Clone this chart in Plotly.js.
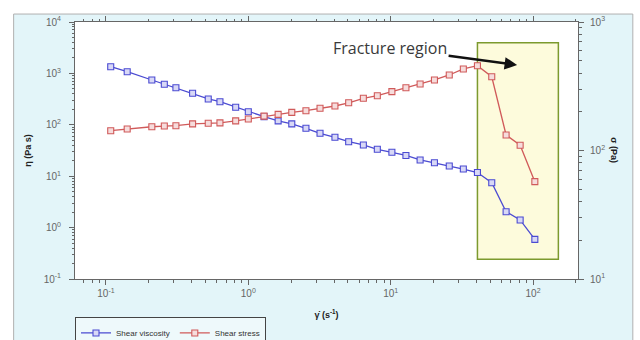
<!DOCTYPE html>
<html>
<head>
<meta charset="utf-8">
<script src="https://cdn.plot.ly/plotly-3.0.1.min.js"></script>
<style>html,body{margin:0;padding:0;background:#fff;}#chart{width:640px;height:340px;}</style>
</head>
<body>
<div id="chart"></div>
<script>
// Shear rate (1/s)
const shearRate = [0.108, 0.141, 0.21, 0.257, 0.31, 0.406, 0.523, 0.632, 0.815, 1.0,
  1.29, 1.62, 2.02, 2.54, 3.19, 4.06, 5.07, 6.43, 8.06, 10.2,
  12.8, 16.1, 20.3, 25.8, 32.4, 40.7, 51.3, 64.7, 81.2, 103];
// Shear viscosity (Pa s)
const shearViscosity = [1349, 1079, 744, 614, 527, 410, 318, 281, 219, 180,
  144, 119, 104, 85.5, 68.3, 57.1, 46.9, 40.5, 33.4, 29.2,
  25.3, 20.7, 18.3, 15.8, 13.8, 11.8, 7.48, 2.04, 1.41, 0.59];
// Shear stress (Pa)
const shearStress = [142.6, 147, 153, 155, 156, 161, 163, 164, 170, 176,
  185, 191, 198, 204, 213, 222, 235, 255, 267, 287,
  308, 329, 354, 387, 431, 457, 375, 132, 110, 57.2];
// Fracture region bounds
const fractureX = [40.7, 150.7];
const fractureY = [0.2415, 3953];

const xTickVals = [0.1, 1, 10, 100];
const xTickText = ['10<sup>-1</sup>', '10<sup>0</sup>', '10<sup>1</sup>', '10<sup>2</sup>'];
const yTickVals = [0.1, 1, 10, 100, 1000, 10000];
const yTickText = ['10<sup>-1</sup>', '10<sup>0</sup>', '10<sup>1</sup>', '10<sup>2</sup>', '10<sup>3</sup>', '10<sup>4</sup>'];
const y2TickVals = [10, 100, 1000];
const y2TickText = ['10<sup>1</sup>', '10<sup>2</sup>', '10<sup>3</sup>'];

function minorVals(d0, d1) {
  const out = [];
  for (let d = d0; d <= d1; d++) for (let m = 2; m <= 9; m++) out.push(m * Math.pow(10, d));
  return out;
}

const tickFont = {family: 'Liberation Sans, Arial, sans-serif', size: 10, color: '#666'};
const titleFont = {family: 'Liberation Sans, Arial, sans-serif', size: 9, color: '#222', weight: 'bold'};

const traces = [
  {
    x: shearRate, y: shearViscosity, name: 'Shear viscosity', type: 'scatter', mode: 'lines+markers',
    line: {color: '#4b4bd2', width: 1.3},
    marker: {symbol: 'square', size: 6, color: '#d8d8f6', line: {color: '#4b4bd2', width: 1.1}},
    xaxis: 'x', yaxis: 'y'
  },
  {
    x: shearRate, y: shearStress, name: 'Shear stress', type: 'scatter', mode: 'lines+markers',
    line: {color: '#d05a5a', width: 1.3},
    marker: {symbol: 'square', size: 6, color: '#f6dcdc', line: {color: '#d05a5a', width: 1.1}},
    xaxis: 'x', yaxis: 'y2'
  }
];

const axisCommon = {
  type: 'log', showgrid: false, zeroline: false, showline: true, linecolor: '#666', linewidth: 1,
  ticks: 'outside', ticklen: 5, tickcolor: '#666', tickwidth: 1, tickmode: 'array',
  tickfont: tickFont
};

const layout = {
  width: 640, height: 340,
  margin: {l: 75, r: 62, t: 22, b: 61, autoexpand: false},
  paper_bgcolor: '#ffffff', plot_bgcolor: '#ffffff',
  showlegend: true,
  legend: {
    orientation: 'h', x: 0, xanchor: 'left', y: -0.21, yanchor: 'middle',
    bgcolor: 'rgba(255,255,255,0.4)', bordercolor: '#444', borderwidth: 1,
    font: {family: 'Liberation Sans, Arial, sans-serif', size: 8, color: '#333'},
    itemwidth: 30
  },
  xaxis: Object.assign({}, axisCommon, {
    range: [-1.2175, 2.316], tickvals: xTickVals, ticktext: xTickText, mirror: 'ticks',
    minor: {tickmode: 'array', tickvals: minorVals(-2, 2), ticks: 'outside', ticklen: 2.5, tickcolor: '#666'},
    title: {text: 'γ̇ (s<sup>-1</sup>)', font: titleFont, standoff: 13}
  }),
  yaxis: Object.assign({}, axisCommon, {
    range: [-1, 4], tickvals: yTickVals, ticktext: yTickText,
    ticklabelstandoff: 6,
    minor: {tickmode: 'array', tickvals: minorVals(-1, 3), ticks: 'outside', ticklen: 2.5, tickcolor: '#666'},
    title: {text: 'η (Pa s)', font: titleFont, standoff: 10}
  }),
  yaxis2: Object.assign({}, axisCommon, {
    overlaying: 'y', side: 'right', range: [1, 3], tickvals: y2TickVals, ticktext: y2TickText,
    ticklabelstandoff: 4,
    minor: {tickmode: 'array', tickvals: minorVals(1, 2), ticks: 'outside', ticklen: 2.5, tickcolor: '#666'}
  }),
  shapes: [
    {type: 'rect', xref: 'paper', yref: 'paper', x0: -0.122, x1: 1.109, y0: -0.25, y1: 1.031,
      fillcolor: '#e3f5f9', line: {color: '#b0b0b0', width: 1}, layer: 'below'},
    {type: 'rect', xref: 'paper', yref: 'paper', x0: 0, x1: 1, y0: 0, y1: 1,
      fillcolor: '#ffffff', line: {width: 0}, layer: 'below'},
    {type: 'rect', xref: 'x', yref: 'y', x0: fractureX[0], x1: fractureX[1], y0: fractureY[0], y1: fractureY[1],
      fillcolor: '#fdfbdc', line: {color: '#7c9a2e', width: 1.5}, layer: 'below'}
  ],
  annotations: [
    {
      xref: 'x', yref: 'y', x: Math.log10(77.3), y: Math.log10(1456),
      ax: -127, ay: -17, axref: 'pixel', ayref: 'pixel',
      text: 'Fracture region', showarrow: true, arrowhead: 2, arrowsize: 1, arrowwidth: 2.5, arrowcolor: '#111',
      font: {family: 'Open Sans, sans-serif', size: 16, color: '#3a3a3a'}
    },
    {
      xref: 'paper', yref: 'paper', x: 1.072, y: 0.5, xanchor: 'center', yanchor: 'middle',
      text: 'σ (Pa)', textangle: 90, showarrow: false, font: titleFont
    }
  ]
};

Plotly.newPlot('chart', traces, layout, {displayModeBar: false, staticPlot: true});
</script>
</body>
</html>
